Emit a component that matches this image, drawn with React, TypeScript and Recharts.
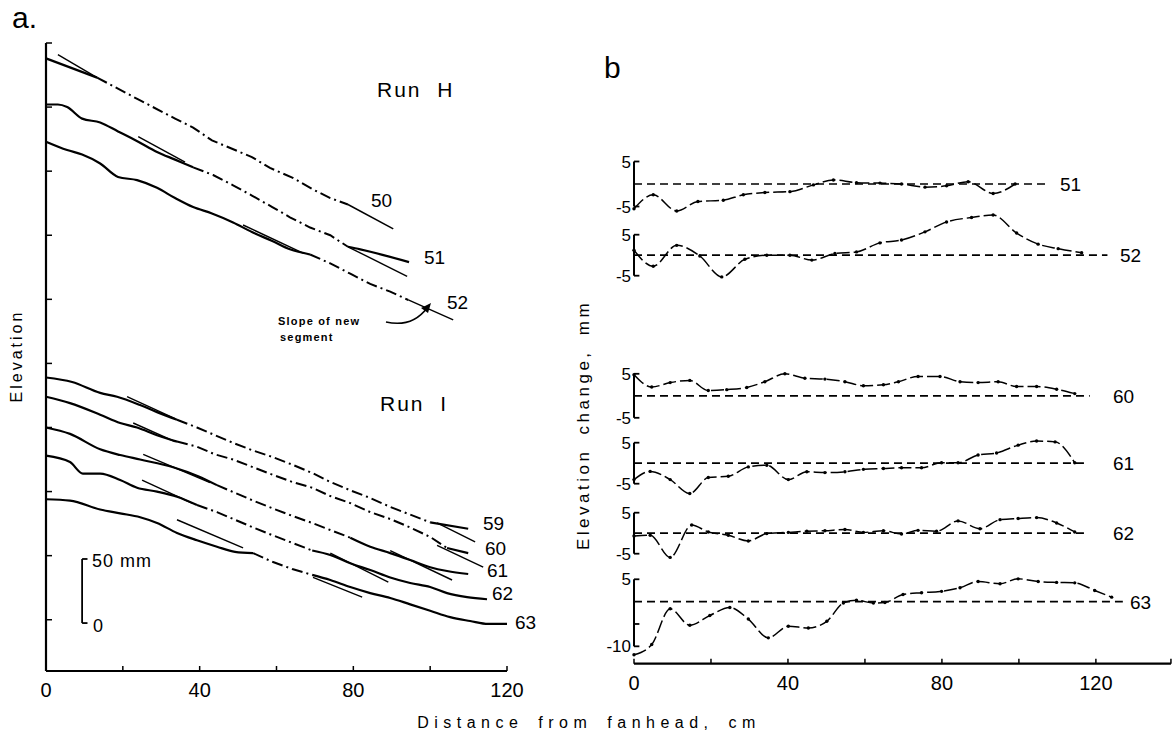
import { LineChart, Line, XAxis, YAxis, ReferenceLine } from "recharts";

type Pt = [number, number];

const FONT = "'Liberation Sans', Arial, sans-serif";

// ---------- panel a: long profiles (distance cm, elevation mm above an arbitrary datum)
// up = older surface upstream (solid), mid = new segment (dash-dot), down = downstream part (solid)

// Run H
const h50Up: Pt[] = [[0, 488], [13.3, 473]];
const h50Mid: Pt[] = [[13.3, 473], [24, 456], [33.6, 441], [38.3, 434], [43.2, 424], [53.6, 411], [58.3, 402.5], [64.1, 395], [69.3, 386], [74, 379], [78.6, 374]];
const h50Down: Pt[] = [[78.6, 374], [90.4, 355]];

const h51Up: Pt[] = [[0, 452], [3.1, 452], [5.5, 450], [9.4, 441], [14.1, 438], [18.75, 431], [24, 423], [28.9, 415], [33.6, 409], [38.3, 403]];
const h51Mid: Pt[] = [[38.3, 403], [43.5, 397], [48.7, 389], [53.6, 381], [58.9, 372], [63.5, 364], [68.75, 356], [74, 350], [78.6, 341]];
const h51Down: Pt[] = [[78.6, 341], [81.8, 339], [94.5, 329]];

const h52Up: Pt[] = [[0, 423], [5.5, 416.5], [9.4, 413], [14.1, 406], [18.75, 395.5], [23.7, 393], [28.9, 387], [33.6, 379], [38.3, 372], [43.2, 367], [48.7, 360], [53.6, 352.5], [58.9, 345.5], [63.5, 339], [68.75, 335]];
const h52Mid: Pt[] = [[68.75, 335], [74, 328], [79.2, 320], [84.4, 312], [89.6, 306], [94.3, 299.5]];

// Run I
const i59Up: Pt[] = [[0, 239], [6.8, 235.5], [14.1, 227], [18.5, 224], [24.5, 217.5], [28.9, 212], [34.1, 206]];
const i59Mid: Pt[] = [[34.1, 206], [39.3, 200], [44, 194], [48.7, 188], [53.9, 182], [58.9, 177], [64.1, 171], [69.3, 164.5], [74, 157.5], [79.2, 151], [84.4, 145], [89.6, 138], [94.8, 132], [100, 126]];
const i59Down: Pt[] = [[100, 126], [109.9, 121]];

const i60Up: Pt[] = [[0, 224], [6.25, 219], [14.1, 210], [19.3, 203.5], [23.7, 200], [28.9, 194], [34.1, 189]];
const i60Mid: Pt[] = [[34.1, 189], [39.3, 185], [44, 179], [48.7, 175], [53.9, 169], [59.1, 163], [64.1, 157.5], [69.3, 153], [74, 146.5], [79.2, 141], [84.4, 134], [89.6, 128.6], [94.8, 122], [100, 114.6], [104.4, 106]];
const i60Down: Pt[] = [[104.4, 106], [109.9, 102]];

const i61Up: Pt[] = [[0, 200], [6.25, 195], [14.1, 183], [19.3, 178.5], [24.5, 175], [33.1, 169], [39.6, 162], [44.5, 155]];
const i61Mid: Pt[] = [[44.5, 155], [49.2, 149], [53.9, 143], [58.9, 137], [64.1, 131], [69.3, 125.5], [74, 120], [79.2, 114]];
const i61Down: Pt[] = [[79.2, 114], [84.4, 107], [89.6, 102], [94.8, 96.6], [100, 91], [104.4, 88], [109.9, 85.7]];

const i62Up: Pt[] = [[0, 178], [6.25, 173], [9.6, 164], [14.1, 164], [19.3, 159], [23.7, 153], [28.9, 150], [34.1, 146], [39.3, 139.5]];
const i62Mid: Pt[] = [[39.3, 139.5], [44.5, 134], [49.2, 128], [53.9, 122], [58.9, 116], [64.1, 110], [69.3, 104]];
const i62Down: Pt[] = [[69.3, 104], [74, 100.5], [79.2, 94], [84.4, 88.8], [89.6, 83], [94.8, 78.7], [100, 75.5], [104.4, 70.8], [109.6, 67.7], [114.8, 66]];

const i63Up: Pt[] = [[0, 144], [6.25, 143], [14.1, 136], [19.3, 133], [24.5, 130], [28.9, 125.5], [34.1, 117.7], [39.3, 112], [44.5, 107], [49.2, 103], [53.9, 102]];
const i63Mid: Pt[] = [[53.9, 102], [59.1, 95], [64.1, 89.6], [69.3, 85]];
const i63Down: Pt[] = [[69.3, 85], [74, 81], [79.2, 75.5], [84.4, 70.8], [89.6, 67], [94.8, 62], [100, 57], [105.2, 52], [110.4, 49], [115.1, 46.7], [120, 46.7]];

// straight lines: slope of new segment
const slopeLines: Pt[][] = [
  [[3.1, 491], [13.3, 473]],
  [[24, 427], [36.2, 407]],
  [[78.6, 341], [94, 318]],
  [[51.3, 358], [66.9, 336]],
  [[94.3, 299.5], [106, 284]],
  [[21.1, 224], [33.6, 207]],
  [[101.8, 125.5], [111.7, 110.7]],
  [[22.7, 203.5], [33.6, 189]],
  [[101.8, 108], [113.8, 91]],
  [[25.3, 179], [42.7, 157]],
  [[89.6, 104], [105.7, 81]],
  [[25, 159], [38, 141]],
  [[74, 102], [89.1, 79.4]],
  [[34.1, 128], [51.3, 106]],
  [[69.5, 83], [82.3, 67.7]],
];

const solidParts = [h50Up, h51Up, h51Down, h52Up, i59Up, i59Down, i60Up, i60Down, i61Up, i61Down, i62Up, i62Down, i63Up, i63Down];
const thinParts = [h50Down];
const newParts = [h50Mid, h51Mid, h52Mid, i59Mid, i60Mid, i61Mid, i62Mid, i63Mid];

const distTicksA = [0, 20, 40, 60, 80, 100, 120];
const distTicksB = [0, 20, 40, 60, 80, 100, 120, 139.5];
const distLabels = [0, 40, 80, 120];
const elevTicks = [50, 100, 150, 200, 250, 300, 350, 400, 450, 500];
const scaleBarMm = 50;

// ---------- panel b: elevation change (cm, mm)
const d51: Pt[] = [[0, -5.5], [5, -2.4], [11.1, -6], [16.6, -3.9], [23.2, -3.6], [28.4, -2.4], [34, -1.9], [40.5, -1.7], [46.6, -0.2], [51.8, 0.9], [57.8, 0.3], [63.9, 0.2], [69.5, 0], [75.6, -0.7], [81.2, -0.4], [86.8, 0.5], [93.3, -2.1], [99, 0]];
const d52: Pt[] = [[0, 1.2], [5, -2.7], [11.1, 2.4], [17.1, -0.2], [22.8, -5.3], [28.8, -1], [34.5, 0], [40.5, 0], [46.2, -1.2], [52.2, 0.4], [57.8, 0.8], [63.9, 3], [69.5, 3.7], [75.6, 5.7], [81.2, 8.1], [87.7, 9.2], [93.3, 9.8], [99.4, 5.4], [105, 2.7], [110.2, 1.6], [116.3, 0.6]];
const d60: Pt[] = [[0, 4.8], [4.6, 2], [9.4, 3], [14.5, 3.5], [19.3, 1.2], [24.1, 1.4], [29.3, 1.9], [34, 3.2], [39.2, 5], [44.4, 4], [49.6, 3.8], [54.8, 3.2], [59.6, 2.3], [64.8, 2.5], [68.7, 3.2], [73.8, 4.4], [79.5, 4.4], [84.7, 3.2], [89.4, 3], [94.6, 3.2], [99.4, 2.1], [104.6, 2.1], [109.8, 1.5], [114.5, 0.5]];
const d61: Pt[] = [[0, -4], [4.2, -2], [9.4, -4], [14.5, -7.4], [19.3, -3.5], [24.5, -3.2], [29.7, -0.9], [34.5, -0.5], [40.1, -4], [44.9, -2.1], [49.6, -2.3], [54.8, -2.1], [59.6, -1.5], [64.8, -1.3], [69.5, -1.1], [74.7, -1.1], [79.9, 0.1], [84.2, 0.1], [89.4, 2], [94.2, 2.5], [99.8, 4.4], [104.6, 5.4], [109.4, 5.2], [114.5, 0.1]];
const d62: Pt[] = [[0, -0.7], [4.2, -0.5], [9.4, -5.9], [15, 2], [19.3, 0.3], [24.5, -0.5], [29.7, -1.9], [34.5, -0.1], [40.1, 0.2], [44.9, 0.5], [49.6, 0.6], [54.8, 0.9], [59.6, 0.2], [64.8, 0.6], [69.5, -0.2], [73.8, 0.7], [78.6, 0.5], [84.2, 3], [89.9, 1.1], [95.1, 3.3], [99.8, 3.6], [104.6, 3.8], [109.8, 2.5], [114.5, 0.3]];
const d63: Pt[] = [[0, -11.9], [4.6, -9.6], [9.4, -1.6], [14.5, -5.3], [19.7, -3.1], [24.9, -1.3], [29.7, -3.9], [34.9, -8.1], [40.1, -5.5], [45.3, -5.9], [50.1, -4.4], [54.4, -0.3], [57.8, 0.3], [62.2, -0.3], [65.2, -0.2], [69.9, 1.6], [74.7, 2], [79.9, 2.3], [84.7, 3.1], [89.4, 4.5], [95.1, 4], [99.8, 5.1], [105, 4.5], [109.8, 4.3], [114.5, 4.2], [119.7, 2.5], [124.1, 1]];

// where each dashed zero line stops (cm)
const zeroEnds = { r51: 107.5, r52: 123, r60: 118.4, r61: 118, r62: 118, r63: 127 };

// layout of the stacked traces (px)
const AXIS_B = 664;
const Y_W = 20;
const X_H = 30;
const traces = [
  { id: "51", data: d51, zeroY: 184, k: 4.5, end: zeroEnds.r51, lx: 1060 },
  { id: "52", data: d52, zeroY: 255, k: 4.1, end: zeroEnds.r52, lx: 1120 },
  { id: "60", data: d60, zeroY: 396, k: 4.4, end: zeroEnds.r60, lx: 1113 },
  { id: "61", data: d61, zeroY: 463, k: 4.1, end: zeroEnds.r61, lx: 1113 },
  { id: "62", data: d62, zeroY: 533, k: 4.1, end: zeroEnds.r62, lx: 1113 },
  { id: "63", data: d63, zeroY: 602, k: 4.47, end: zeroEnds.r63, lx: 1130 },
];

const rows = (pts: Pt[]) => pts.map(([x, y]) => ({ x, y }));

function BottomTick(props: any) {
  const { x, y, payload } = props;
  const v = payload.value;
  return (
    <g>
      <line x1={x} x2={x} y1={y} y2={y - 5} stroke="#000" strokeWidth={1.5} />
      {distLabels.includes(v) && (
        <text x={x} y={y + 26} textAnchor="middle" fontSize={20} fontFamily={FONT} fill="#000">
          {v}
        </text>
      )}
    </g>
  );
}

function ElevTick(props: any) {
  const { x, y } = props;
  return <line x1={x} x2={x + 6} y1={y} y2={y} stroke="#000" strokeWidth={1.5} />;
}

function ChangeTick(props: any) {
  const { x, y, payload } = props;
  return (
    <text x={x - 3} y={y} dy={6} textAnchor="end" fontSize={17} fontFamily={FONT} fill="#000">
      {payload.value}
    </text>
  );
}

function PanelA() {
  return (
    <div style={{ position: "absolute", left: 0, top: 0 }}>
      <LineChart width={560} height={720} margin={{ top: 43, right: 53, bottom: 720 - 671 - X_H, left: 46 - Y_W }}>
        <XAxis
          type="number"
          dataKey="x"
          domain={[0, 120]}
          ticks={distTicksA}
          interval={0}
          height={X_H}
          tickSize={0}
          tickMargin={0}
          tickLine={false}
          axisLine={{ stroke: "#000", strokeWidth: 2.2 }}
          tick={BottomTick}
        />
        <YAxis
          type="number"
          domain={[10, 500]}
          ticks={elevTicks}
          interval={0}
          width={Y_W}
          tickSize={0}
          tickMargin={0}
          tickLine={false}
          axisLine={{ stroke: "#000", strokeWidth: 2.2 }}
          tick={ElevTick}
        />
        {solidParts.map((p, i) => (
          <Line key={`s${i}`} data={rows(p)} dataKey="y" type="monotone" stroke="#000" strokeWidth={2.2} dot={false} activeDot={false} isAnimationActive={false} />
        ))}
        {thinParts.map((p, i) => (
          <Line key={`t${i}`} data={rows(p)} dataKey="y" type="linear" stroke="#000" strokeWidth={1.5} dot={false} activeDot={false} isAnimationActive={false} />
        ))}
        {newParts.map((p, i) => (
          <Line
            key={`n${i}`}
            data={rows(p)}
            dataKey="y"
            type="linear"
            stroke="#000"
            strokeWidth={2}
            strokeDasharray="11 4 2 4"
            dot={false}
            activeDot={false}
            isAnimationActive={false}
          />
        ))}
        {slopeLines.map((p, i) => (
          <Line key={`l${i}`} data={rows(p)} dataKey="y" type="linear" stroke="#000" strokeWidth={1.4} dot={false} activeDot={false} isAnimationActive={false} />
        ))}
        {/* 50 mm scale bar */}
        <ReferenceLine segment={[{ x: 9.4, y: 47.4 }, { x: 9.4, y: 47.4 + scaleBarMm }]} stroke="#000" strokeWidth={1.8} />
        <ReferenceLine segment={[{ x: 9.4, y: 47.4 + scaleBarMm }, { x: 10.8, y: 47.4 + scaleBarMm }]} stroke="#000" strokeWidth={1.8} />
        <ReferenceLine segment={[{ x: 9.4, y: 47.4 }, { x: 10.8, y: 47.4 }]} stroke="#000" strokeWidth={1.8} />
      </LineChart>
    </div>
  );
}

function Trace({ t, withAxis }: { t: (typeof traces)[number]; withAxis: boolean }) {
  const hi = 12;
  const lo = withAxis ? -(AXIS_B - t.zeroY) / t.k : -12;
  const plotH = (hi - lo) * t.k;
  const bottom = withAxis ? 10 : 0;
  const xh = withAxis ? X_H : 0;
  const isDeep = t.id === "63";
  const low = isDeep ? -10 : -5;
  const serifs = isDeep ? [5, -5, -10] : [5, -5];
  return (
    <div style={{ position: "absolute", left: 0, top: t.zeroY - hi * t.k }}>
      <LineChart width={1175} height={plotH + bottom + xh} margin={{ top: 0, right: 4, bottom, left: 634 - Y_W }}>
        <XAxis
          type="number"
          dataKey="x"
          domain={[0, 139.5]}
          ticks={distTicksB}
          interval={0}
          hide={!withAxis}
          height={X_H}
          tickSize={0}
          tickMargin={0}
          tickLine={false}
          axisLine={{ stroke: "#000", strokeWidth: 2.2 }}
          tick={BottomTick}
        />
        <YAxis
          type="number"
          domain={[lo, hi]}
          ticks={[5, low]}
          interval={0}
          width={Y_W}
          tickSize={0}
          tickMargin={0}
          tickLine={false}
          axisLine={false}
          tick={ChangeTick}
        />
        <ReferenceLine segment={[{ x: 0, y: 0 }, { x: t.end, y: 0 }]} stroke="#000" strokeWidth={1.7} strokeDasharray="8 5" />
        <ReferenceLine segment={[{ x: 0, y: low }, { x: 0, y: 5 }]} stroke="#000" strokeWidth={2} />
        {serifs.map((s) => (
          <ReferenceLine key={s} segment={[{ x: 0, y: s }, { x: 1.4, y: s }]} stroke="#000" strokeWidth={1.8} />
        ))}
        <Line
          data={rows(t.data)}
          dataKey="y"
          type="monotone"
          stroke="#000"
          strokeWidth={1.5}
          strokeDasharray="13 4"
          dot={{ r: 1.7, fill: "#000", stroke: "none" }}
          activeDot={false}
          isAnimationActive={false}
        />
      </LineChart>
    </div>
  );
}

export default function App() {
  return (
    <div style={{ position: "absolute", left: 0, top: 0, width: 1175, height: 747, background: "#fff", overflow: "hidden" }}>
      <PanelA />
      {traces.map((t, i) => (
        <Trace key={t.id} t={t} withAxis={i === traces.length - 1} />
      ))}
      <svg width={1175} height={747} style={{ position: "absolute", left: 0, top: 0, pointerEvents: "none" }} fontFamily={FONT} fill="#000">
        <text x={12} y={28} fontSize={30}>a.</text>
        <text x={604} y={78} fontSize={30}>b</text>
        <text x={377} y={97} fontSize={21} letterSpacing={2} wordSpacing={8}>Run H</text>
        <text x={380} y={411} fontSize={21} letterSpacing={2} wordSpacing={8}>Run I</text>
        <text transform="translate(22 356) rotate(-90)" textAnchor="middle" fontSize={16} letterSpacing={3}>Elevation</text>
        <text transform="translate(589 425) rotate(-90)" textAnchor="middle" fontSize={17} letterSpacing={3.5} wordSpacing={6}>
          Elevation change, mm
        </text>
        <text x={589} y={728} textAnchor="middle" fontSize={16} letterSpacing={5.5} wordSpacing={5}>
          Distance from fanhead, cm
        </text>
        <text x={92} y={567} fontSize={18} letterSpacing={1}>50 mm</text>
        <text x={93} y={632} fontSize={18}>0</text>
        <text x={278} y={325} fontSize={11} fontWeight="bold" letterSpacing={1.2}>Slope of new</text>
        <text x={280} y={341} fontSize={11} fontWeight="bold" letterSpacing={1.2}>segment</text>
        <path d="M386 322 C 404 326, 418 320, 427 308" fill="none" stroke="#000" strokeWidth={1.6} />
        <path d="M431 303 L 421 308 L 428 313 Z" fill="#000" />
        {[
          ["50", 371, 207],
          ["51", 424, 264],
          ["52", 447, 309],
          ["59", 483, 530],
          ["60", 485, 555],
          ["61", 487, 577],
          ["62", 492, 600],
          ["63", 515, 629],
        ].map(([s, x, y]) => (
          <text key={s as string} x={x as number} y={y as number} fontSize={19}>
            {s}
          </text>
        ))}
        {traces.map((t) => (
          <text key={t.id} x={t.lx} y={t.zeroY + 7} fontSize={19}>
            {t.id}
          </text>
        ))}
      </svg>
    </div>
  );
}
